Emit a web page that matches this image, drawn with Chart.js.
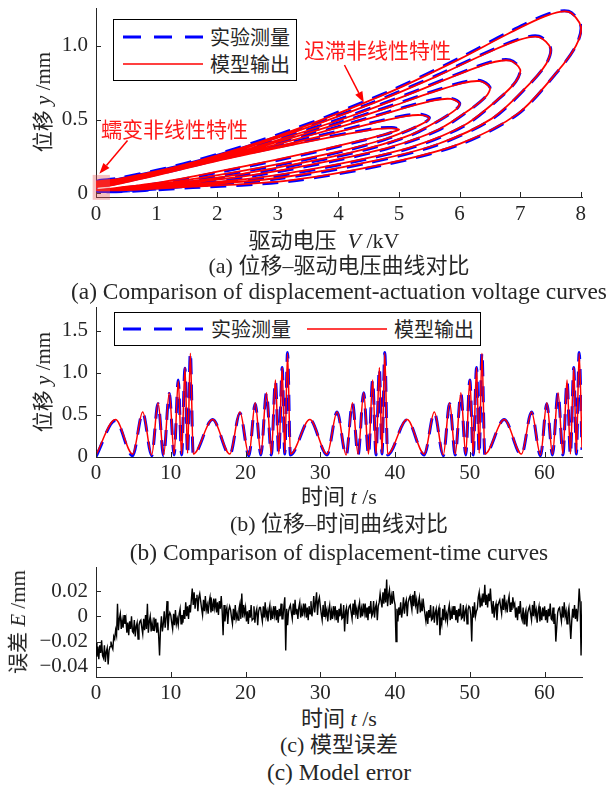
<!DOCTYPE html>
<html>
<head>
<meta charset="utf-8">
<script src="https://cdn.jsdelivr.net/npm/chart.js@4.4.1/dist/chart.umd.min.js"></script>
<style>
  body { margin: 0; background: #fff; }
  #page { position: relative; width: 606px; height: 787px; overflow: hidden; background: #fff;
          font-family: 'Liberation Serif', 'Noto Sans CJK SC', serif; color: #262626; }
  .box { position: absolute; left: 0; width: 606px; }
  .cap { position: absolute; left: 0; width: 678px; text-align: center; font-size: 22px; line-height: 26px; white-space: nowrap; }
  .cap.en { font-size: 23.4px; }
  .ytitle { position: absolute; font-size: 21px; line-height: 24px; white-space: nowrap; transform: translate(-50%, -50%) rotate(-90deg); }
  .legend { position: absolute; border: 1px solid #000; background: #fff; font-family: 'Noto Sans CJK SC'; font-size: 20px; color: #262626; }
  .legend svg { position: absolute; left: 0; top: 0; }
  .legend span { position: absolute; line-height: 24px; white-space: nowrap; }
  .note { position: absolute; color: #ff1a1a; font-family: 'Noto Sans CJK SC'; font-size: 21px; line-height: 24px; white-space: nowrap; }
  i { font-family: 'Liberation Serif'; }
</style>
</head>
<body>
<div id="page">
  <div class="box" style="top:0;height:228px"><canvas id="chartA"></canvas></div>
  <div class="box" style="top:300px;height:185px"><canvas id="chartB"></canvas></div>
  <div class="box" style="top:560px;height:145px"><canvas id="chartC"></canvas></div>

  <div class="ytitle" style="left:43px;top:102px">位移 <i>y</i> /mm</div>
  <div class="ytitle" style="left:43px;top:382px">位移 <i>y</i> /mm</div>
  <div class="ytitle" style="left:18px;top:622px">误差 <i>E</i> /mm</div>

  <div class="cap" style="top:228px;left:-15px">驱动电压&nbsp; <i>V</i> /kV</div>
  <div class="cap" style="top:253px">(a) 位移–驱动电压曲线对比</div>
  <div class="cap en" style="top:278px">(a) Comparison of displacement-actuation voltage curves</div>
  <div class="cap" style="top:484px">时间 <i>t</i> /s</div>
  <div class="cap" style="top:511px">(b) 位移–时间曲线对比</div>
  <div class="cap en" style="top:539px">(b) Comparison of displacement-time curves</div>
  <div class="cap" style="top:706px">时间 <i>t</i> /s</div>
  <div class="cap" style="top:732px">(c) 模型误差</div>
  <div class="cap en" style="top:759px">(c) Model error</div>

  <div class="legend" style="left:113px;top:19px;width:182px;height:60px">
    <svg width="182" height="60">
      <line x1="9" y1="17" x2="89" y2="17" stroke="#0000ff" stroke-width="3" stroke-dasharray="18 13"/>
      <line x1="9" y1="44" x2="89" y2="44" stroke="#ff0000" stroke-width="1.5"/>
    </svg>
    <span style="left:96px;top:5px">实验测量</span>
    <span style="left:96px;top:32px">模型输出</span>
  </div>
  <div class="legend" style="left:114px;top:312px;width:365px;height:32px">
    <svg width="365" height="32">
      <line x1="8" y1="16" x2="88" y2="16" stroke="#0000ff" stroke-width="3" stroke-dasharray="18 13"/>
      <line x1="192" y1="16" x2="272" y2="16" stroke="#ff0000" stroke-width="1.5"/>
    </svg>
    <span style="left:96px;top:4px">实验测量</span>
    <span style="left:279px;top:4px">模型输出</span>
  </div>

  <div class="note" style="left:304px;top:37px">迟滞非线性特性</div>
  <div class="note" style="left:101px;top:116px">蠕变非线性特性</div>
</div>

<script>
// ---- (a) hysteresis loops: voltage / displacement along each closed loop ----
const loopVolts = [
  [0, 1.0, 2.0, 3.0, 3.75, 4.35, 4.75, 4.95, 5.0, 4.88, 4.65, 4.25, 3.75, 3.0, 2.0, 1.0, 0.25, 0],
  [0, 1.1, 2.2, 3.3, 4.13, 4.79, 5.23, 5.45, 5.5, 5.36, 5.12, 4.68, 4.13, 3.3, 2.2, 1.1, 0.28, 0],
  [0, 1.2, 2.4, 3.6, 4.5, 5.22, 5.7, 5.94, 6.0, 5.85, 5.58, 5.1, 4.5, 3.6, 2.4, 1.2, 0.3, 0],
  [0, 1.3, 2.6, 3.9, 4.88, 5.66, 6.18, 6.44, 6.5, 6.34, 6.05, 5.53, 4.88, 3.9, 2.6, 1.3, 0.33, 0],
  [0, 1.4, 2.8, 4.2, 5.25, 6.09, 6.65, 6.93, 7.0, 6.83, 6.51, 5.95, 5.25, 4.2, 2.8, 1.4, 0.35, 0],
  [0, 1.5, 3.0, 4.5, 5.63, 6.53, 7.13, 7.43, 7.5, 7.31, 6.98, 6.38, 5.63, 4.5, 3.0, 1.5, 0.38, 0],
  [0, 1.6, 3.2, 4.8, 6.0, 6.96, 7.6, 7.92, 8.0, 7.8, 7.44, 6.8, 6.0, 4.8, 3.2, 1.6, 0.4, 0]
];
const loopMeasured = [
  [.012, .064, .140, .224, .292, .352, .396, .423, .434, .445, .442, .415, .376, .314, .226, .129, .059, .046],
  [.012, .060, .130, .215, .290, .367, .440, .487, .514, .535, .529, .491, .435, .353, .246, .137, .063, .050],
  [.012, .057, .124, .216, .300, .397, .502, .569, .612, .645, .636, .585, .512, .406, .275, .150, .070, .056],
  [.012, .055, .118, .216, .311, .430, .569, .659, .720, .765, .753, .688, .595, .464, .307, .164, .077, .062],
  [.012, .049, .106, .208, .314, .460, .641, .759, .844, .905, .890, .807, .690, .528, .341, .179, .085, .069],
  [.012, .045, .097, .206, .327, .502, .729, .878, .987, 1.065, 1.046, .944, .801, .605, .383, .198, .095, .078],
  [.012, .038, .081, .196, .330, .536, .817, 1.000, 1.137, 1.235, 1.214, 1.091, .918, .685, .426, .216, .104, .084]
];
const loopModel = [
  [.02, .070, .146, .230, .297, .356, .398, .423, .432, .44, .436, .409, .370, .308, .220, .123, .053, .040],
  [.02, .066, .136, .221, .295, .371, .442, .487, .511, .53, .523, .485, .429, .347, .240, .131, .057, .044],
  [.02, .063, .130, .222, .305, .401, .504, .569, .609, .64, .630, .579, .506, .400, .269, .144, .064, .050],
  [.02, .061, .124, .222, .316, .434, .571, .659, .716, .76, .747, .682, .589, .458, .301, .158, .071, .056],
  [.02, .055, .112, .214, .319, .464, .643, .759, .840, .90, .884, .801, .684, .522, .335, .173, .079, .063],
  [.02, .051, .103, .212, .332, .506, .731, .878, .983, 1.06, 1.040, .938, .795, .599, .377, .192, .089, .072],
  [.02, .044, .087, .202, .335, .540, .819, 1.000, 1.133, 1.23, 1.205, 1.082, .910, .677, .418, .209, .098, .080]
];

// ---- (b) displacement vs time: turning points of each cycle ----
const timeS = [
  0, 2.6, 4.9, 6.25, 7.45, 8.3, 9.05, 9.8, 10.45, 11.0, 11.45, 11.9, 12.25, 12.62,
  13.0, 15.6, 17.9, 19.25, 20.45, 21.3, 22.05, 22.8, 23.45, 24.0, 24.45, 24.9, 25.25, 25.62,
  26.0, 28.6, 30.9, 32.25, 33.45, 34.3, 35.05, 35.8, 36.45, 37.0, 37.45, 37.9, 38.25, 38.62,
  39.0, 41.6, 43.9, 45.25, 46.45, 47.3, 48.05, 48.8, 49.45, 50.0, 50.45, 50.9, 51.25, 51.62,
  52.0, 54.6, 56.9, 58.25, 59.45, 60.3, 61.05, 61.8, 62.45, 63.0, 63.45, 63.9, 64.25, 64.62,
  65.0
];
const measuredDisp = [
  0.00, 0.43, 0.01, 0.52, 0.01, 0.63, 0.01, 0.75, 0.02, 0.91, 0.02, 1.05, 0.02, 1.24,
  0.02, 0.44, 0.02, 0.52, 0.01, 0.63, 0.02, 0.76, 0.02, 0.90, 0.02, 1.06, 0.03, 1.24,
  0.02, 0.44, 0.02, 0.53, 0.01, 0.64, 0.02, 0.76, 0.02, 0.91, 0.02, 1.05, 0.03, 1.24,
  0.02, 0.44, 0.02, 0.52, 0.01, 0.63, 0.02, 0.75, 0.02, 0.91, 0.02, 1.06, 0.03, 1.24,
  0.02, 0.44, 0.02, 0.53, 0.01, 0.63, 0.02, 0.76, 0.02, 0.90, 0.02, 1.06, 0.03, 1.24,
  0.08
];
const modelDisp = [
  0.02, 0.44, 0.03, 0.53, 0.02, 0.64, 0.02, 0.76, 0.03, 0.90, 0.03, 1.06, 0.04, 1.23,
  0.03, 0.44, 0.03, 0.53, 0.02, 0.64, 0.03, 0.76, 0.03, 0.91, 0.03, 1.06, 0.04, 1.23,
  0.03, 0.44, 0.03, 0.53, 0.02, 0.64, 0.03, 0.76, 0.03, 0.91, 0.03, 1.06, 0.04, 1.23,
  0.03, 0.44, 0.03, 0.53, 0.02, 0.64, 0.03, 0.76, 0.03, 0.91, 0.03, 1.06, 0.04, 1.23,
  0.03, 0.44, 0.03, 0.53, 0.02, 0.64, 0.03, 0.76, 0.03, 0.91, 0.03, 1.06, 0.04, 1.23,
  0.10
];

// ---- (c) model error in micrometres, one row per second, sampled every 0.125 s ----
const errStep = 0.125;
const errorMicrons = [
  -21, -32, -24, -34, -23, -29, -19, -31,
  -33, -23, -36, -28, -25, -38, -27, -24,
  -20, -24, -26, -16, -18, -11, -15, 10,
  -11, -2, 2, -10, -3, -9, 1, -6,
  -2, -13, -5, -15, -4, -10, 0, -12,
  -13, -3, -16, -8, -5, -18, -7, -4,
  -3, -9, -14, -2, -11, 1, -10, 10,
  -13, -4, 0, -12, -5, -11, -1, -8,
  -2, -13, -5, -15, -31, -10, 0, -12,
  -6, 4, -9, -1, 12, -11, 0, 3,
  1, -5, -10, 2, -7, 5, -6, -2,
  -7, 2, 6, -6, 1, -5, 5, -2,
  11, 0, 8, -2, 9, 3, 13, 22,
  9, 19, 6, 14, 17, 4, 15, 18,
  12, 6, 1, 13, 4, 16, 5, 9,
  2, 11, 15, 3, 10, 4, 14, 7,
  14, 3, 11, 1, 12, 6, 16, 4,
  -15, 9, -4, 4, 7, -6, 5, 8,
  5, -1, -6, 6, -3, 9, -2, 2,
  -3, 6, 10, -2, 18, -1, 9, 2,
  7, -4, 4, -6, 5, -1, 9, -3,
  -2, 8, -5, 3, 6, -7, 4, 7,
  7, 1, -4, 8, -1, 11, 0, 4,
  -4, 5, 9, -3, 4, -2, 8, 1,
  8, -3, 5, -5, 6, 0, 10, -2,
  -2, 8, 15, -27, 6, -7, 4, 7,
  9, 3, -2, 10, 1, 13, 2, 6,
  -2, 7, 11, -1, 6, 0, 10, 3,
  10, -1, 7, -3, 8, 2, 12, 0,
  6, 16, 3, 11, 19, 1, 12, 15,
  8, 2, -3, 9, 0, 12, 1, 5,
  -4, 5, 9, -3, 4, -2, 8, 1,
  8, -3, 5, -5, 6, 0, 10, -2,
  -1, 9, -12, 4, 7, -6, 5, 8,
  9, 3, -2, 10, 1, 13, 2, 6,
  -2, 7, 11, -1, 6, 0, 10, 3,
  10, -1, 7, -3, 8, 2, 12, 0,
  2, 12, -1, 7, 10, -3, 8, 11,
  18, 12, 7, 19, 10, 22, 11, 29,
  8, 17, 21, 9, 16, 10, 20, 13,
  9, -20, 6, -4, 7, 1, 11, -1,
  5, 15, 2, 10, 13, 0, 11, 14,
  16, 10, 5, 17, 8, 20, 9, 13,
  2, 11, 15, 3, 10, 4, 14, 7,
  7, -4, 4, -6, 5, -1, 9, -3,
  -2, 8, -5, 3, 6, -7, 4, 7,
  -15, -1, -6, 6, -3, 9, -2, 2,
  -4, 5, 9, -3, 4, -2, 8, 1,
  8, -3, 5, -5, 6, 0, 10, -2,
  -1, 9, -4, 4, 7, -6, 5, 8,
  7, 1, -20, 8, -1, 11, 0, 4,
  6, 15, 19, 7, 14, 8, 18, 11,
  25, 9, 17, 7, 18, 12, 22, 10,
  2, 12, -1, 7, 10, -3, 8, 11,
  13, 7, 2, 14, 5, 17, 6, 10,
  3, 12, 16, 4, 11, 5, 15, 8,
  10, -1, 7, -3, 8, 2, 12, 0,
  -3, 7, -6, 2, 5, -8, 3, 6,
  8, 2, -3, 9, 0, 12, 1, 5,
  -5, 4, 8, -4, 3, -3, 7, 0,
  8, -3, 5, -5, 6, 0, 10, -2,
  -3, 7, -6, 2, -20, -8, 3, 6,
  7, 1, -4, 8, -1, 11, 0, 4,
  -6, 3, 7, -5, -18, -4, 6, -1,
  9, -2, 6, -4, 7, 22, 11, -31,
  12
];

// ---- tick values and labels ----
const voltTicks = [0, 1, 2, 3, 4, 5, 6, 7, 8];
const voltLabels = ['0', '1', '2', '3', '4', '5', '6', '7', '8'];
const dispTicksA = [0, 0.5, 1];
const dispLabelsA = ['0', '0.5', '1.0'];
const dispTicksB = [0, 0.5, 1, 1.5];
const dispLabelsB = ['0', '0.5', '1.0', '1.5'];
const timeTicks = [0, 10, 20, 30, 40, 50, 60];
const timeLabels = ['0', '10', '20', '30', '40', '50', '60'];
const errTicks = [-0.04, -0.02, 0, 0.02];
const errLabels = ['\u22120.04', '\u22120.02', '0', '0.02'];

const INK = '#262626';
const BLUE = '#0000ff';
const RED = '#ff0000';

function axis(min, max, values, labels, fitKey, fitSize, pad) {
  return {
    type: 'linear', min: min, max: max,
    afterFit: s => {
      s[fitKey] = fitSize;
      s.paddingTop = 0; s.paddingBottom = 0; s.paddingLeft = 0; s.paddingRight = 0;
    },
    afterBuildTicks: s => { s.ticks = values.map(v => ({ value: v })); },
    grid: { display: false, drawTicks: false },
    border: { display: true, color: INK, width: 1 },
    ticks: {
      font: { family: 'Liberation Serif', size: 21 }, color: INK, padding: pad,
      maxRotation: 0, autoSkip: false,
      callback: v => labels[values.indexOf(v)]
    }
  };
}

// tick marks drawn inwards, matlab style
const inwardTicks = {
  id: 'inwardTicks',
  afterDatasetsDraw(chart) {
    const { ctx, chartArea: a, scales: { x, y } } = chart;
    ctx.save();
    ctx.strokeStyle = INK;
    ctx.lineWidth = 1;
    ctx.beginPath();
    x.ticks.forEach(t => {
      const px = Math.round(x.getPixelForValue(t.value)) + 0.5;
      ctx.moveTo(px, a.bottom); ctx.lineTo(px, a.bottom - 5);
    });
    y.ticks.forEach(t => {
      const py = Math.round(y.getPixelForValue(t.value)) + 0.5;
      ctx.moveTo(a.left, py); ctx.lineTo(a.left + 5, py);
    });
    ctx.stroke();
    ctx.restore();
  }
};

function arrow(ctx, x0, y0, x1, y1) {
  const ang = Math.atan2(y1 - y0, x1 - x0);
  const len = 11, half = 4;
  const bx = x1 - len * Math.cos(ang), by = y1 - len * Math.sin(ang);
  ctx.beginPath();
  ctx.moveTo(x0, y0); ctx.lineTo(bx, by); ctx.stroke();
  ctx.beginPath();
  ctx.moveTo(x1, y1);
  ctx.lineTo(bx + half * Math.sin(ang), by - half * Math.cos(ang));
  ctx.lineTo(bx - half * Math.sin(ang), by + half * Math.cos(ang));
  ctx.closePath(); ctx.fill();
}

// creep region box and the two callout arrows of panel (a)
const calloutsA = {
  id: 'calloutsA',
  afterDatasetsDraw(chart) {
    const { ctx, scales: { x, y } } = chart;
    ctx.save();
    ctx.fillStyle = 'rgba(235, 90, 90, 0.38)';
    const rx0 = x.getPixelForValue(-0.055), rx1 = x.getPixelForValue(0.23);
    const ry0 = y.getPixelForValue(0.124), ry1 = y.getPixelForValue(-0.045);
    ctx.fillRect(rx0, ry0, rx1 - rx0, ry1 - ry0);
    ctx.strokeStyle = RED; ctx.fillStyle = RED; ctx.lineWidth = 1.5;
    arrow(ctx, x.getPixelForValue(4.10), y.getPixelForValue(0.87), x.getPixelForValue(4.42), y.getPixelForValue(0.615));
    arrow(ctx, x.getPixelForValue(0.52), y.getPixelForValue(0.357), x.getPixelForValue(0.055), y.getPixelForValue(0.131));
    ctx.restore();
  }
};

const base = {
  animation: false, responsive: true, maintainAspectRatio: false, devicePixelRatio: 1, events: [],
  plugins: { legend: { display: false }, tooltip: { enabled: false } }
};

// panel (a)
const measPtsA = [], modelPtsA = [];
loopVolts.forEach((row, k) => {
  row.forEach((v, i) => {
    measPtsA.push({ x: v, y: loopMeasured[k][i] });
    modelPtsA.push({ x: v, y: loopModel[k][i] });
  });
});
new Chart(document.getElementById('chartA'), {
  type: 'scatter',
  data: { datasets: [
    { label: '模型输出', data: modelPtsA, showLine: true, borderColor: RED, borderWidth: 1.8, pointRadius: 0, tension: 0.3 },
    { label: '实验测量', data: measPtsA, showLine: true, borderColor: BLUE, borderWidth: 3, borderDash: [16, 10], pointRadius: 0, tension: 0.3 }
  ] },
  options: Object.assign({}, base, {
    layout: { padding: { left: 0, top: 8, right: 24, bottom: 0 }, autoPadding: false },
    scales: {
      x: axis(0, 8.02, voltTicks, voltLabels, 'height', 31, 5),
      y: axis(-0.026, 1.257, dispTicksA, dispLabelsA, 'width', 96, 8)
    }
  }),
  plugins: [inwardTicks, calloutsA]
});

// panel (b)
new Chart(document.getElementById('chartB'), {
  type: 'scatter',
  data: { datasets: [
    { label: '模型输出', data: timeS.map((t, i) => ({ x: t, y: modelDisp[i] })), showLine: true, borderColor: RED, borderWidth: 1.5, pointRadius: 0, cubicInterpolationMode: 'monotone' },
    { label: '实验测量', data: timeS.map((t, i) => ({ x: t, y: measuredDisp[i] })), showLine: true, borderColor: BLUE, borderWidth: 3, borderDash: [16, 10], pointRadius: 0, cubicInterpolationMode: 'monotone' }
  ] },
  options: Object.assign({}, base, {
    layout: { padding: { left: 0, top: 7, right: 24, bottom: 0 }, autoPadding: false },
    scales: {
      x: axis(0, 65, timeTicks, timeLabels, 'height', 28, 4),
      y: axis(-0.005, 1.78, dispTicksB, dispLabelsB, 'width', 96, 8)
    }
  }),
  plugins: [inwardTicks]
});

// panel (c)
new Chart(document.getElementById('chartC'), {
  type: 'scatter',
  data: { datasets: [
    { label: '误差', data: errorMicrons.map((e, i) => ({ x: i * errStep, y: e / 1000 })), showLine: true, borderColor: '#000', borderWidth: 1.4, pointRadius: 0 }
  ] },
  options: Object.assign({}, base, {
    layout: { padding: { left: 0, top: 7, right: 24, bottom: 0 }, autoPadding: false },
    scales: {
      x: axis(0, 65, timeTicks, timeLabels, 'height', 28, 4),
      y: axis(-0.048, 0.039, errTicks, errLabels, 'width', 96, 8)
    }
  }),
  plugins: [inwardTicks]
});
</script>
</body>
</html>
